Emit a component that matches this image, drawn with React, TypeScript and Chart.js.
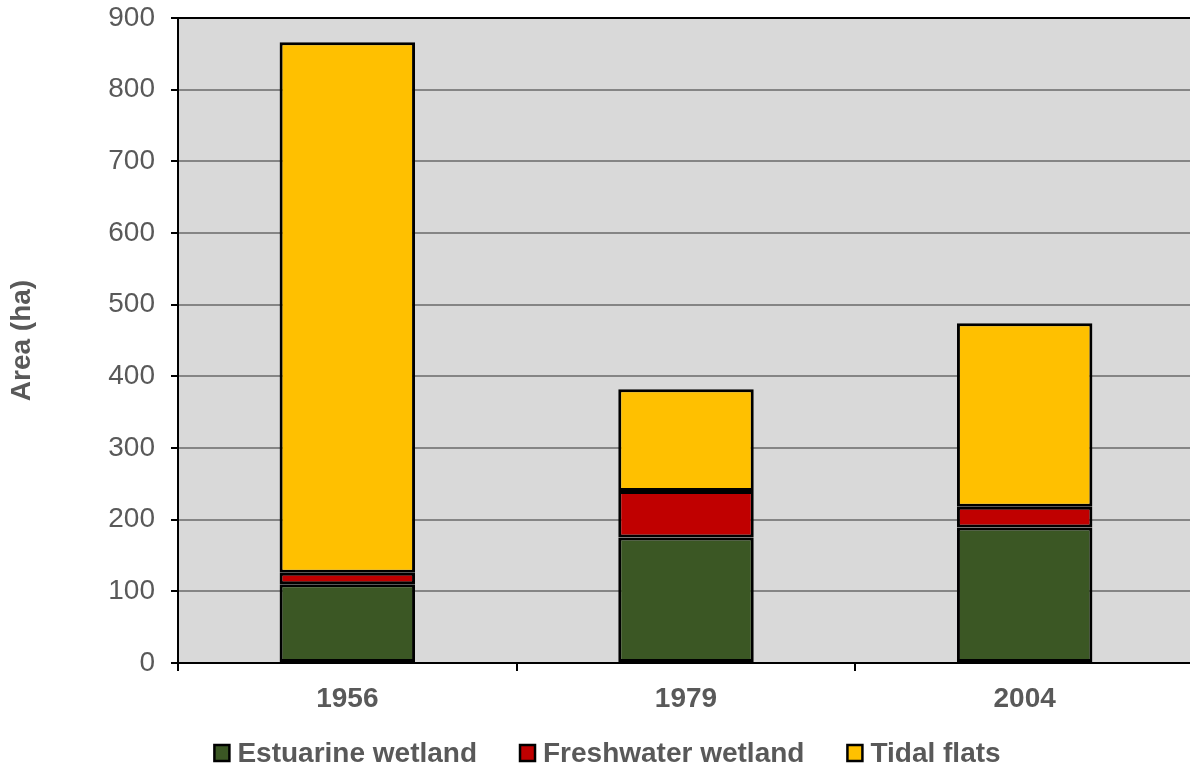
import React, { useEffect, useRef } from "react";
import { Chart, registerables } from "chart.js";

Chart.register(...registerables);

// Wetland area by survey year (hectares)
const years = ["1956", "1979", "2004"];
const estuarineWetland = [110, 175, 189];
const freshwaterWetland = [16, 65, 29];
const tidalFlats = [740, 142, 256];

const seriesLabels = ["Estuarine wetland", "Freshwater wetland", "Tidal flats"];
const seriesColors = ["#3b5724", "#c00000", "#ffc000"];

const yMin = 0;
const yMax = 900;
const yStep = 100;

const FONT = '"Liberation Sans", Arial, Helvetica, sans-serif';
const TEXT_GREY = "#595959";

// Grey plotting area behind the bars
const plotBackground = {
  id: "plotBackground",
  beforeDraw(chart: any) {
    const { ctx, chartArea } = chart;
    ctx.save();
    ctx.fillStyle = "#d9d9d9";
    ctx.fillRect(chartArea.left, chartArea.top, chartArea.right - chartArea.left, chartArea.bottom - chartArea.top);
    ctx.restore();
  },
};

// Legend row under the category labels: small bordered squares with tight text
const bottomLegend = {
  id: "bottomLegend",
  afterDraw(chart: any) {
    const { ctx } = chart;
    const datasets = chart.data.datasets;
    const centerX = 607;
    const centerY = 753;
    const boxW = 15;
    const boxH = 16;
    const textGap = 24;
    const itemGap = 42;
    ctx.save();
    ctx.font = `bold 28px ${FONT}`;
    ctx.textBaseline = "middle";
    ctx.textAlign = "left";
    const widths = datasets.map((d: any) => ctx.measureText(d.label).width);
    const total = widths.reduce((a: number, w: number) => a + textGap + w, 0) + itemGap * (datasets.length - 1);
    let x = centerX - total / 2;
    datasets.forEach((d: any, i: number) => {
      ctx.fillStyle = d.backgroundColor;
      ctx.fillRect(x + 1, centerY - boxH / 2, boxW, boxH);
      ctx.lineWidth = 2.5;
      ctx.strokeStyle = "#000";
      ctx.strokeRect(x + 1, centerY - boxH / 2, boxW, boxH);
      ctx.fillStyle = TEXT_GREY;
      ctx.fillText(d.label, x + textGap, centerY + 1);
      x += textGap + widths[i] + itemGap;
    });
    ctx.restore();
  },
};

export default function App() {
  const canvasRef = useRef<HTMLCanvasElement | null>(null);

  useEffect(() => {
    if (!canvasRef.current) return;
    const seriesData = [estuarineWetland, freshwaterWetland, tidalFlats];
    const chart = new Chart(canvasRef.current, {
      type: "bar",
      data: {
        labels: years,
        datasets: seriesData.map((values, i) => ({
          label: seriesLabels[i],
          data: values,
          backgroundColor: seriesColors[i],
          borderColor: "#000",
          borderWidth: 3,
          borderSkipped: false,
          barPercentage: 0.4,
          categoryPercentage: 1,
        })),
      },
      options: {
        responsive: false,
        animation: false,
        layout: { padding: { left: 4, top: 18, right: 0, bottom: 0 } },
        plugins: {
          legend: { display: false },
          tooltip: { enabled: false },
          title: { display: false },
        },
        scales: {
          x: {
            stacked: true,
            grid: {
              offset: true,
              drawOnChartArea: false,
              drawTicks: true,
              tickLength: 8,
              color: "#000",
              lineWidth: 2,
            },
            border: { color: "#000", width: 2 },
            ticks: {
              padding: 11,
              color: TEXT_GREY,
              font: { family: FONT, size: 28, weight: "bold" },
            },
            afterFit(scale: any) {
              scale.height = 109;
              scale.paddingLeft = 0;
              scale.paddingRight = 0;
            },
          },
          y: {
            stacked: true,
            min: yMin,
            max: yMax,
            grid: {
              color: (c: any) => (c.tick && c.tick.value === yMax ? "#000" : "#858585"),
              tickColor: "#000",
              lineWidth: 2,
              tickLength: 7,
            },
            border: { color: "#000", width: 2 },
            ticks: {
              stepSize: yStep,
              padding: 16,
              color: TEXT_GREY,
              font: { family: FONT, size: 28 },
            },
            title: {
              display: true,
              text: "Area (ha)",
              color: TEXT_GREY,
              padding: { top: 1, bottom: 0 },
              font: { family: FONT, size: 28, weight: "bold" },
            },
            afterFit(scale: any) {
              scale.width = 174;
              scale.paddingTop = 0;
              scale.paddingBottom = 0;
            },
          },
        },
      },
      plugins: [plotBackground, bottomLegend],
    });
    return () => chart.destroy();
  }, []);

  return (
    <div
      style={{
        position: "fixed",
        left: 0,
        top: 0,
        width: 1190,
        height: 772,
        overflow: "hidden",
        background: "#fff",
      }}
    >
      <canvas ref={canvasRef} width={1194} height={772} style={{ display: "block" }} />
    </div>
  );
}
